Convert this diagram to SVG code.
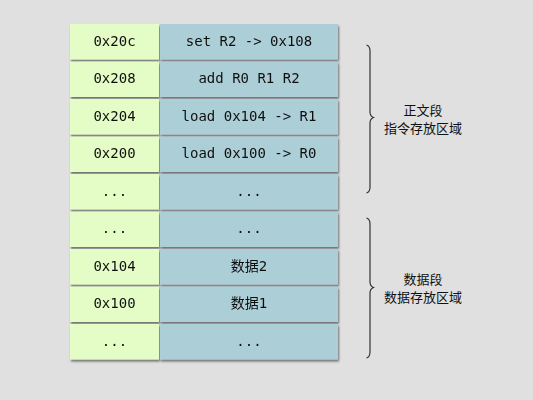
<svg xmlns="http://www.w3.org/2000/svg" width="533" height="400" viewBox="0 0 533 400">
<defs>
<filter id="sh" x="-10%" y="-20%" width="120%" height="150%">
<feGaussianBlur in="SourceAlpha" stdDeviation="0.8"/>
<feOffset dx="0.5" dy="1.8" result="b"/>
<feComponentTransfer><feFuncA type="linear" slope="0.5"/></feComponentTransfer>
<feMerge><feMergeNode/><feMergeNode in="SourceGraphic"/></feMerge>
</filter>
</defs>
<style>
.a{fill:#e4fcc6}
.v{fill:#abced7}
.t{font-family:"DejaVu Sans Mono","Noto Sans CJK SC",monospace;font-size:14px;fill:#111;text-anchor:middle}
.c{font-family:"Noto Sans CJK SC",sans-serif;font-size:13px;fill:#111;text-anchor:middle}
.br{fill:none;stroke:#333;stroke-width:1.2}
</style>
<rect width="533" height="400" fill="#e0e0e0"/>
<g id="row0" filter="url(#sh)"><rect class="a" x="70" y="24" width="89" height="35.5"/><rect class="v" x="160" y="24" width="178" height="35.5"/><text class="t" x="114.5" y="45.5">0x20c</text><text class="t" x="249" y="45.5">set R2 -&gt; 0x108</text></g>
<g id="row1" filter="url(#sh)"><rect class="a" x="70" y="61.5" width="89" height="35.5"/><rect class="v" x="160" y="61.5" width="178" height="35.5"/><text class="t" x="114.5" y="83">0x208</text><text class="t" x="249" y="83">add R0 R1 R2</text></g>
<g id="row2" filter="url(#sh)"><rect class="a" x="70" y="99" width="89" height="35.5"/><rect class="v" x="160" y="99" width="178" height="35.5"/><text class="t" x="114.5" y="120.5">0x204</text><text class="t" x="249" y="120.5">load 0x104 -&gt; R1</text></g>
<g id="row3" filter="url(#sh)"><rect class="a" x="70" y="136.5" width="89" height="35.5"/><rect class="v" x="160" y="136.5" width="178" height="35.5"/><text class="t" x="114.5" y="158">0x200</text><text class="t" x="249" y="158">load 0x100 -&gt; R0</text></g>
<g id="row4" filter="url(#sh)"><rect class="a" x="70" y="174" width="89" height="35.5"/><rect class="v" x="160" y="174" width="178" height="35.5"/><text class="t" x="114.5" y="195.5">...</text><text class="t" x="249" y="195.5">...</text></g>
<g id="row5" filter="url(#sh)"><rect class="a" x="70" y="211.5" width="89" height="35.5"/><rect class="v" x="160" y="211.5" width="178" height="35.5"/><text class="t" x="114.5" y="233">...</text><text class="t" x="249" y="233">...</text></g>
<g id="row6" filter="url(#sh)"><rect class="a" x="70" y="249" width="89" height="35.5"/><rect class="v" x="160" y="249" width="178" height="35.5"/><text class="t" x="114.5" y="270.5">0x104</text><text class="t" x="249" y="270.5">数据2</text></g>
<g id="row7" filter="url(#sh)"><rect class="a" x="70" y="286.5" width="89" height="35.5"/><rect class="v" x="160" y="286.5" width="178" height="35.5"/><text class="t" x="114.5" y="308">0x100</text><text class="t" x="249" y="308">数据1</text></g>
<g id="row8" filter="url(#sh)"><rect class="a" x="70" y="324" width="89" height="35.5"/><rect class="v" x="160" y="324" width="178" height="35.5"/><text class="t" x="114.5" y="345.5">...</text><text class="t" x="249" y="345.5">...</text></g>
<g id="brace-text">
<path class="br" d="M366.5,45 Q370,46 370,51 L370,112 Q370,116 373.5,117.5 Q370,119 370,123 L370,187 Q370,192 366.5,193"/>
<text class="c" x="423" y="115">正文段</text>
<text class="c" x="423" y="133">指令存放区域</text>
</g>
<g id="brace-data">
<path class="br" d="M366.5,218 Q370,219 370,224 L370,282 Q370,286 373.5,287.5 Q370,289 370,293 L370,352 Q370,357 366.5,358"/>
<text class="c" x="423" y="284">数据段</text>
<text class="c" x="423" y="302">数据存放区域</text>
</g>
</svg>
